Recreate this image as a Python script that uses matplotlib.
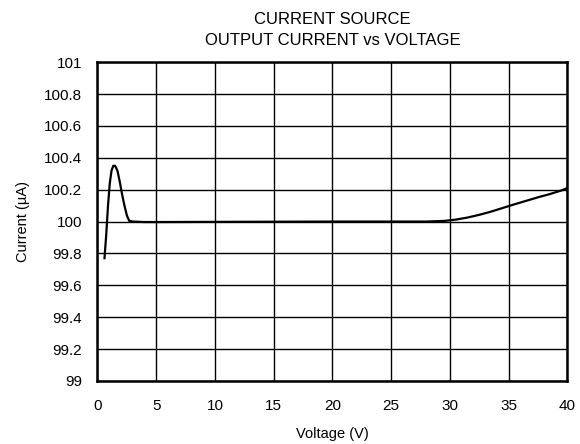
import matplotlib
matplotlib.use("Agg")
import matplotlib.pyplot as plt

plt.rcParams["font.family"] = ["Liberation Sans", "DejaVu Sans"]

# values
voltage = [0.6, 0.75, 0.9, 1.05, 1.2, 1.35, 1.5, 1.7, 1.9, 2.1, 2.3, 2.5, 2.7,
           3.0, 4.0, 5.0, 10.0, 15.0, 20.0, 25.0, 28.0, 29.5, 30.5, 31.5,
           32.5, 33.5, 34.5, 35.5, 36.5, 37.5, 38.5, 39.5, 40.0]
current = [99.77, 99.92, 100.10, 100.24, 100.32, 100.35, 100.35, 100.32, 100.25,
           100.17, 100.10, 100.04, 100.005, 100.0, 99.997, 99.997, 99.998,
           99.999, 100.0, 100.0, 100.0, 100.004, 100.012, 100.025, 100.042,
           100.062, 100.085, 100.108, 100.13, 100.152, 100.172, 100.195, 100.21]

x_ticks = [0, 5, 10, 15, 20, 25, 30, 35, 40]
y_ticks = [99, 99.2, 99.4, 99.6, 99.8, 100, 100.2, 100.4, 100.6, 100.8, 101]

fig = plt.figure(figsize=(5.8, 4.44), dpi=100)
ax = fig.add_axes([0.168, 0.142, 0.810, 0.718])

ax.plot(voltage, current, color="black", lw=1.6)

ax.set_xlim(0, 40)
ax.set_ylim(99, 101)
ax.set_xticks(x_ticks)
ax.set_yticks(y_ticks)
ax.set_yticklabels([f"{v:g}" for v in y_ticks])
ax.grid(True, color="black", lw=1.0)
ax.tick_params(length=0, labelsize=11)
ax.tick_params(axis="x", pad=13)
ax.tick_params(axis="y", pad=11)
for s in ax.spines.values():
    s.set_linewidth(1.8)

ax.set_xlabel("Voltage (V)", fontsize=10.5, labelpad=10)
ax.set_ylabel("Current (µA)", fontsize=10.5, labelpad=10)
ax.set_title("CURRENT SOURCE\nOUTPUT CURRENT vs VOLTAGE", fontsize=12, pad=12,
             linespacing=1.5)

fig.savefig("out.png", dpi=100)
